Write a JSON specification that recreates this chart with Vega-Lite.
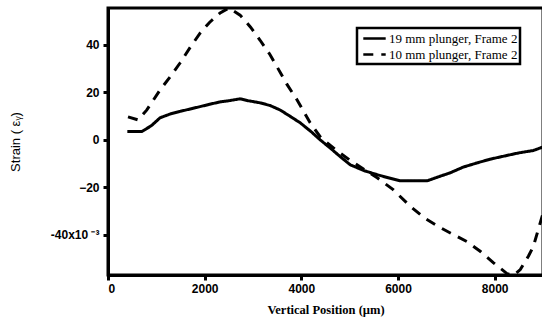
{
  "$schema": "https://vega.github.io/schema/vega-lite/v6.json",
  "width": 435,
  "height": 267,
  "autosize": "none",
  "padding": {"left": 108, "top": 8, "right": 0, "bottom": 47},
  "background": "white",
  "config": {
    "view": {"stroke": "black", "strokeWidth": 3},
    "axis": {"grid": false, "domainColor": "black", "domainWidth": 3, "tickColor": "black", "tickWidth": 3, "tickSize": 5, "labelColor": "black", "titleColor": "black"}
  },
  "data": {"values": [
    {"s": "19 mm plunger, Frame 2", "x": 400, "y": 3.5},
    {"s": "19 mm plunger, Frame 2", "x": 700, "y": 3.5},
    {"s": "19 mm plunger, Frame 2", "x": 900, "y": 6},
    {"s": "19 mm plunger, Frame 2", "x": 1077, "y": 9.3},
    {"s": "19 mm plunger, Frame 2", "x": 1300, "y": 11},
    {"s": "19 mm plunger, Frame 2", "x": 1490, "y": 12},
    {"s": "19 mm plunger, Frame 2", "x": 1700, "y": 13},
    {"s": "19 mm plunger, Frame 2", "x": 1905, "y": 14},
    {"s": "19 mm plunger, Frame 2", "x": 2100, "y": 15},
    {"s": "19 mm plunger, Frame 2", "x": 2320, "y": 16},
    {"s": "19 mm plunger, Frame 2", "x": 2500, "y": 16.5},
    {"s": "19 mm plunger, Frame 2", "x": 2733, "y": 17.3},
    {"s": "19 mm plunger, Frame 2", "x": 2900, "y": 16.5},
    {"s": "19 mm plunger, Frame 2", "x": 3147, "y": 15.6},
    {"s": "19 mm plunger, Frame 2", "x": 3350, "y": 14.5},
    {"s": "19 mm plunger, Frame 2", "x": 3560, "y": 12.6},
    {"s": "19 mm plunger, Frame 2", "x": 3800, "y": 9.5},
    {"s": "19 mm plunger, Frame 2", "x": 3975, "y": 7.2},
    {"s": "19 mm plunger, Frame 2", "x": 4200, "y": 3.5},
    {"s": "19 mm plunger, Frame 2", "x": 4390, "y": 0},
    {"s": "19 mm plunger, Frame 2", "x": 4600, "y": -3.5},
    {"s": "19 mm plunger, Frame 2", "x": 4800, "y": -7},
    {"s": "19 mm plunger, Frame 2", "x": 5010, "y": -10.5},
    {"s": "19 mm plunger, Frame 2", "x": 5300, "y": -13},
    {"s": "19 mm plunger, Frame 2", "x": 5570, "y": -14.7},
    {"s": "19 mm plunger, Frame 2", "x": 5800, "y": -16},
    {"s": "19 mm plunger, Frame 2", "x": 6045, "y": -17.3},
    {"s": "19 mm plunger, Frame 2", "x": 6300, "y": -17.3},
    {"s": "19 mm plunger, Frame 2", "x": 6600, "y": -17.3},
    {"s": "19 mm plunger, Frame 2", "x": 6850, "y": -15.5},
    {"s": "19 mm plunger, Frame 2", "x": 7080, "y": -13.9},
    {"s": "19 mm plunger, Frame 2", "x": 7350, "y": -11.5},
    {"s": "19 mm plunger, Frame 2", "x": 7640, "y": -9.7},
    {"s": "19 mm plunger, Frame 2", "x": 7900, "y": -8.2},
    {"s": "19 mm plunger, Frame 2", "x": 8116, "y": -7.2},
    {"s": "19 mm plunger, Frame 2", "x": 8500, "y": -5.5},
    {"s": "19 mm plunger, Frame 2", "x": 8800, "y": -4.5},
    {"s": "19 mm plunger, Frame 2", "x": 9000, "y": -3},
    {"s": "10 mm plunger, Frame 2", "x": 414, "y": 9.7},
    {"s": "10 mm plunger, Frame 2", "x": 621, "y": 8.4},
    {"s": "10 mm plunger, Frame 2", "x": 800, "y": 12.5},
    {"s": "10 mm plunger, Frame 2", "x": 1077, "y": 21},
    {"s": "10 mm plunger, Frame 2", "x": 1300, "y": 27},
    {"s": "10 mm plunger, Frame 2", "x": 1490, "y": 32.4},
    {"s": "10 mm plunger, Frame 2", "x": 1700, "y": 39},
    {"s": "10 mm plunger, Frame 2", "x": 1905, "y": 45},
    {"s": "10 mm plunger, Frame 2", "x": 2100, "y": 49.5},
    {"s": "10 mm plunger, Frame 2", "x": 2320, "y": 53.5},
    {"s": "10 mm plunger, Frame 2", "x": 2500, "y": 55.6},
    {"s": "10 mm plunger, Frame 2", "x": 2733, "y": 52.6},
    {"s": "10 mm plunger, Frame 2", "x": 2950, "y": 47.5},
    {"s": "10 mm plunger, Frame 2", "x": 3147, "y": 42},
    {"s": "10 mm plunger, Frame 2", "x": 3350, "y": 36},
    {"s": "10 mm plunger, Frame 2", "x": 3500, "y": 30.7},
    {"s": "10 mm plunger, Frame 2", "x": 3700, "y": 23.5},
    {"s": "10 mm plunger, Frame 2", "x": 3913, "y": 16.8},
    {"s": "10 mm plunger, Frame 2", "x": 4182, "y": 7.2},
    {"s": "10 mm plunger, Frame 2", "x": 4400, "y": 1},
    {"s": "10 mm plunger, Frame 2", "x": 4700, "y": -4},
    {"s": "10 mm plunger, Frame 2", "x": 5000, "y": -8.5},
    {"s": "10 mm plunger, Frame 2", "x": 5300, "y": -12.5},
    {"s": "10 mm plunger, Frame 2", "x": 5570, "y": -16},
    {"s": "10 mm plunger, Frame 2", "x": 5900, "y": -21},
    {"s": "10 mm plunger, Frame 2", "x": 6252, "y": -28},
    {"s": "10 mm plunger, Frame 2", "x": 6550, "y": -33},
    {"s": "10 mm plunger, Frame 2", "x": 6873, "y": -37},
    {"s": "10 mm plunger, Frame 2", "x": 7150, "y": -40},
    {"s": "10 mm plunger, Frame 2", "x": 7433, "y": -43},
    {"s": "10 mm plunger, Frame 2", "x": 7700, "y": -47},
    {"s": "10 mm plunger, Frame 2", "x": 7971, "y": -51.8},
    {"s": "10 mm plunger, Frame 2", "x": 8261, "y": -56.5},
    {"s": "10 mm plunger, Frame 2", "x": 8400, "y": -57},
    {"s": "10 mm plunger, Frame 2", "x": 8530, "y": -54.7},
    {"s": "10 mm plunger, Frame 2", "x": 8700, "y": -49},
    {"s": "10 mm plunger, Frame 2", "x": 8800, "y": -45},
    {"s": "10 mm plunger, Frame 2", "x": 9000, "y": -31}
  ]},
  "mark": {"type": "line", "strokeWidth": 3, "clip": true, "color": "black"},
  "encoding": {
    "x": {"field": "x", "type": "quantitative", "scale": {"domain": [0, 9000], "nice": false, "zero": false},
      "axis": {"values": [0, 2000, 4000, 6000, 8000], "format": "d", "title": "Vertical Position (µm)", "titleFont": "Liberation Serif", "titleFontSize": 12.5, "titleFontWeight": "bold", "titlePadding": 9, "labelFont": "Liberation Sans", "labelFontSize": 12, "labelFontWeight": "bold", "labelPadding": 3}},
    "y": {"field": "y", "type": "quantitative", "scale": {"domain": [-57, 55.6], "nice": false, "zero": false},
      "axis": {"values": [-40, -20, 0, 20, 40], "labelExpr": "datum.value == -40 ? '-40x10 ⁻³' : datum.label", "title": "Strain ( εᵧ)", "titleFont": "Liberation Sans", "titleFontSize": 13, "titleFontWeight": "normal", "titlePadding": 28, "labelFont": "Liberation Sans", "labelFontSize": 12, "labelFontWeight": "bold", "labelPadding": 4}},
    "strokeDash": {"field": "s", "type": "nominal", "sort": ["19 mm plunger, Frame 2", "10 mm plunger, Frame 2"],
      "scale": {"domain": ["19 mm plunger, Frame 2", "10 mm plunger, Frame 2"], "range": [[1, 0], [10, 8]]},
      "legend": {"title": null, "orient": "none", "legendX": 249, "legendY": 20, "strokeColor": "black", "padding": 2, "fillColor": "white", "labelFont": "Liberation Serif", "labelFontSize": 13, "labelColor": "black", "symbolType": "M -0.6,0 H 2.6", "symbolSize": 196, "symbolStrokeWidth": 2.5, "symbolStrokeColor": "black", "rowPadding": 0, "labelOffset": 13,
        "encode": {"legend": {"update": {"strokeWidth": {"value": 2.5}}}}}}
  }
}
